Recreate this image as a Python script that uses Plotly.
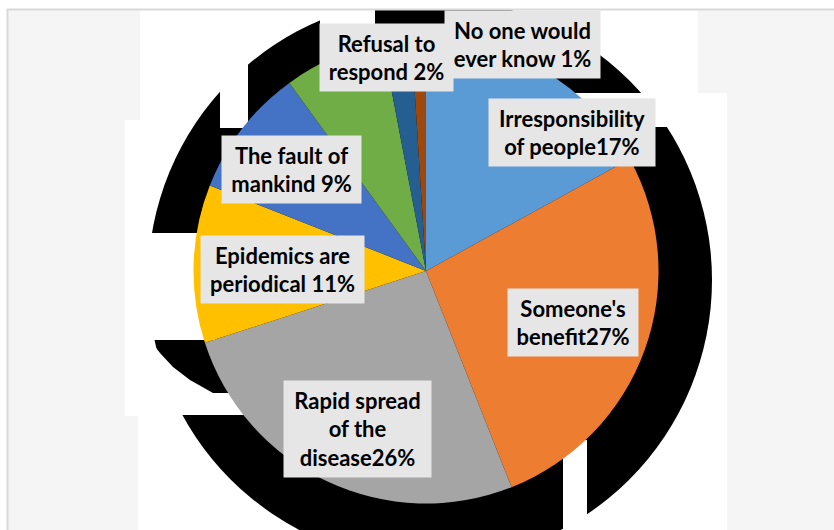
import plotly.graph_objects as go

# ---------------- data ----------------
slice_names = ["Irresponsibility of people", "Someone's benefit", "Rapid spread of the disease",
               "Epidemics are periodical", "The fault of mankind", "Other",
               "Refusal to respond", "No one would ever know"]
slice_values = [17, 27, 26, 11, 9, 7, 2, 1]
label_texts = ["Irresponsibility<br>of people", "Someone's<br>benefit", "Rapid spread<br>of the<br>disease",
               "Epidemics are<br>periodical ", "The fault of<br>mankind ", "",
               "Refusal to<br>respond ", "No one would<br>ever know "]

# ---------------- style ----------------
W, H = 834, 530
colors = ["#5B9BD5", "#ED7D31", "#A5A5A5", "#FFC000", "#4472C4", "#70AD47", "#255E91", "#9E480E"]
# label boxes: centre x, centre y, width, height (pixels)
label_boxes = [(572, 132.5, 166, 67), (573, 322.5, 130, 67), (357.5, 429, 147, 96),
               (282.5, 269.5, 163, 67), (291.5, 169.5, 139, 67), None,
               (386.5, 57.5, 133, 67), (522.5, 44.5, 155, 67)]

def px(x):
    return x / W

def py(y):
    return 1 - y / H

pie_cx, pie_cy, pie_r = 426, 271, 232.5

fig = go.Figure()
fig.add_trace(go.Pie(
    labels=slice_names, values=slice_values, sort=False, direction="clockwise", rotation=0,
    marker=dict(colors=colors, line=dict(width=0)),
    textinfo="none", hoverinfo="label+percent", showlegend=False,
    domain=dict(x=[px(pie_cx - pie_r), px(pie_cx + pie_r)],
                y=[py(pie_cy + pie_r), py(pie_cy - pie_r)]),
))

shapes = []
# hatched side areas (approximated by a light fill)
side_fill = "#F5F5F5"
for (x0, y0, x1, y1) in [(8, 10, 140, 120), (8, 120, 125, 416), (8, 416, 138, 530),
                         (698, 10, 834, 93), (727, 93, 834, 530)]:
    shapes.append(dict(type="rect", xref="paper", yref="paper", x0=px(x0), x1=px(x1),
                       y0=py(y1), y1=py(y0), fillcolor=side_fill, line=dict(width=0), layer="below"))
# black shadow disc behind the pie
shapes.append(dict(type="circle", xref="paper", yref="paper", x0=px(148), x1=px(712),
                   y0=py(562), y1=py(-2), fillcolor="black", line=dict(width=0), layer="below"))
# white gaps in the shadow
for (x0, y0, x1, y1) in [(0, 0, 834, 10), (220, 9, 248, 128), (320, 9, 375, 24),
                         (560, 93, 727, 127), (130, 233, 215, 340), (130, 393, 262, 415),
                         (563, 440, 587, 530)]:
    shapes.append(dict(type="rect", xref="paper", yref="paper", x0=px(x0), x1=px(x1),
                       y0=py(y1), y1=py(y0), fillcolor="white", line=dict(width=0), layer="below"))
pts = [(130, 340), (150, 340), (160, 353), (173, 367), (190, 380), (213, 393), (130, 393)]
path = "M " + " L ".join(f"{px(a)},{py(b)}" for a, b in pts) + " Z"
shapes.append(dict(type="path", xref="paper", yref="paper", path=path,
                   fillcolor="white", line=dict(width=0), layer="below"))
# frame lines
shapes.append(dict(type="line", xref="paper", yref="paper", x0=px(7), x1=1, y0=py(9.5), y1=py(9.5),
                   line=dict(color="#D9D9D9", width=2), layer="above"))
shapes.append(dict(type="line", xref="paper", yref="paper", x0=px(7.5), x1=px(7.5), y0=0, y1=py(9),
                   line=dict(color="#D9D9D9", width=2), layer="above"))

annotations = []
for txt, v, box in zip(label_texts, slice_values, label_boxes):
    if box is None or not txt:
        continue
    cx, cy, bw, bh = box
    annotations.append(dict(
        xref="paper", yref="paper", x=px(cx), y=py(cy), xanchor="center", yanchor="middle",
        text=f"{txt}{v}%", showarrow=False, align="center", valign="middle",
        width=bw, height=bh, borderpad=0, bgcolor="#E6E6E6",
        font=dict(family="Lato", size=22, color="black", weight="bold"),
    ))

fig.update_layout(
    width=W, height=H, margin=dict(l=0, r=0, t=0, b=0),
    paper_bgcolor="white", plot_bgcolor="white",
    shapes=shapes, annotations=annotations,
)
fig.write_html("out.html")
